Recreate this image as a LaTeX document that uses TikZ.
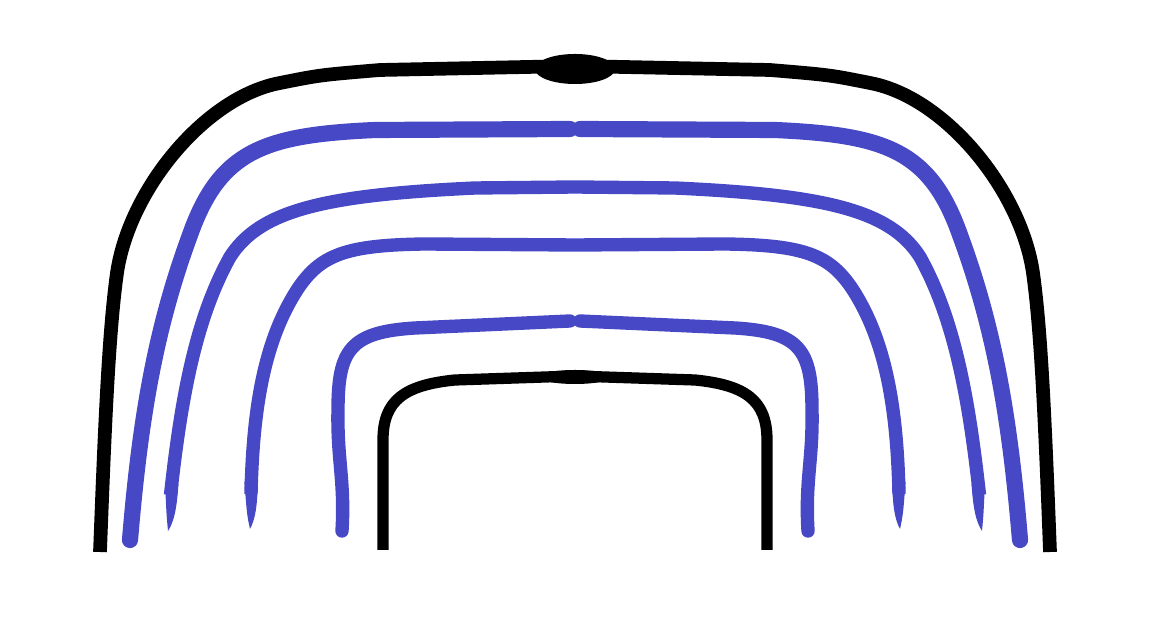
\documentclass[tikz,border=0pt]{standalone}
\usepackage{tikz}
\definecolor{archblue}{RGB}{70,72,198}
\tikzset{
  blackarch/.style={draw=black, line width=3.9pt, line cap=butt, line join=round},
  bluearch/.style={draw=archblue, line width=3.8pt, line cap=round, line join=round},
  bluetip/.style={fill=archblue},
}

\begin{document}
\begin{tikzpicture}[x=0.01cm, y=-0.01cm]
\useasboundingbox (-575,0) rectangle (577,628);

% both halves of every arch, mirrored about the middle
\foreach \s in {1,-1}{
\begin{scope}[xscale=\s]
\draw[blackarch] (-475,552) .. controls (-470,420) and (-466,330) .. (-458,273)
  .. controls (-446,190) and (-370,97) .. (-295,83)
  .. controls (-255,75) .. (-195,70) -- (0,66);
\draw[bluearch, line width=4.6pt] (-445,540) .. controls (-435,420) and (-420,330) .. (-385,235)
  .. controls (-355,150) and (-310,135) .. (-200,130) -- (-5,129);
\draw[bluearch, line cap=butt] (-404.5,495) .. controls (-394,400) and (-380,320) .. (-345,257)
  .. controls (-315,210) and (-250,195) .. (-100,188) -- (0,187);
\fill[bluetip] (-410,482) -- (-396.6,484) .. controls (-398,508) and (-401,522) .. (-407,531)
  .. controls (-408.5,515) .. cycle;
\draw[bluearch, line cap=butt] (-324,494) .. controls (-322,405) and (-310,340) .. (-278,290)
  .. controls (-255,255) and (-230,245) .. (-150,244) -- (0,245);
\fill[bluetip] (-330.6,482) -- (-317.2,482) .. controls (-317.5,506) and (-320,520) .. (-325,529)
  .. controls (-328,515) .. cycle;
\draw[bluearch] (-233,531) .. controls (-230,480) and (-238,460) .. (-237,410)
  .. controls (-237,350) and (-225,332) .. (-160,328) -- (-5,321);
\draw[blackarch, line width=3.2pt] (-192,550) -- (-192,440)
  .. controls (-192,400) and (-170,385) .. (-120,380) -- (0,376);
\end{scope}
}

\fill (0,69) ellipse [x radius=0.40cm, y radius=0.15cm];
\fill (0,377) ellipse [x radius=0.36cm, y radius=0.07cm];
\end{tikzpicture}
\end{document}
